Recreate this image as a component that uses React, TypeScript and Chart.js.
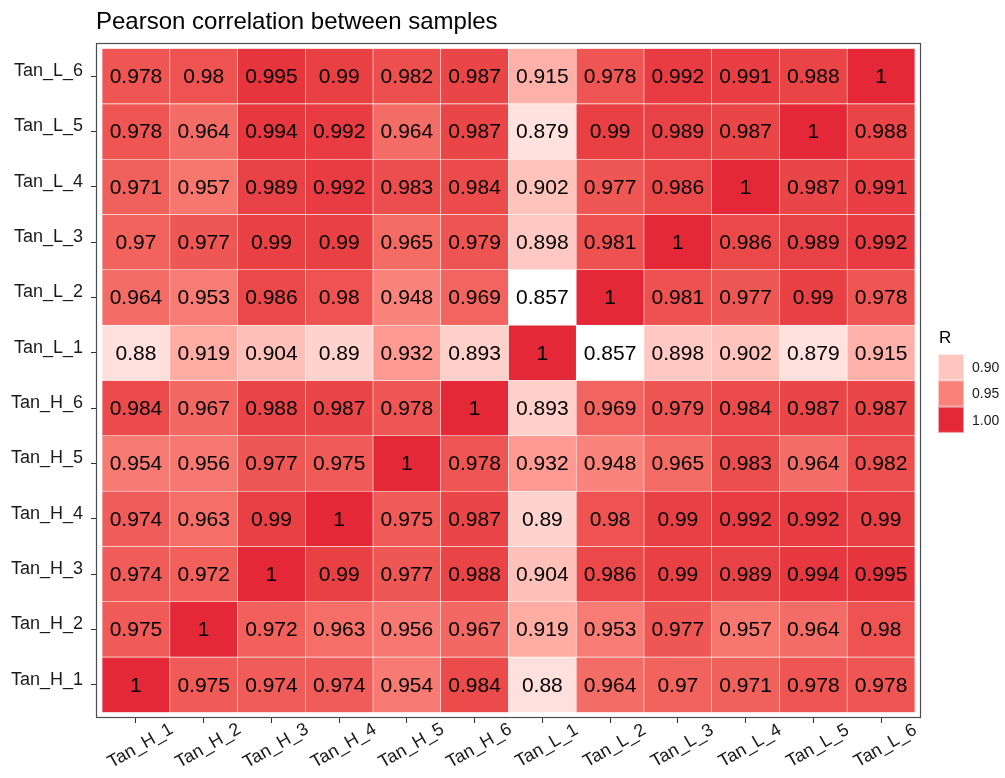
import React, { useEffect, useRef } from "react";
import { Chart, registerables } from "chart.js";

Chart.register(...registerables);

// Sample names (columns left→right, rows bottom→top)
const samples = [
  "Tan_H_1", "Tan_H_2", "Tan_H_3", "Tan_H_4", "Tan_H_5", "Tan_H_6",
  "Tan_L_1", "Tan_L_2", "Tan_L_3", "Tan_L_4", "Tan_L_5", "Tan_L_6",
];

// Pearson R, each row across columns Tan_H_1 … Tan_L_6
const rowH1 = [1, 0.975, 0.974, 0.974, 0.954, 0.984, 0.88, 0.964, 0.97, 0.971, 0.978, 0.978];
const rowH2 = [0.975, 1, 0.972, 0.963, 0.956, 0.967, 0.919, 0.953, 0.977, 0.957, 0.964, 0.98];
const rowH3 = [0.974, 0.972, 1, 0.99, 0.977, 0.988, 0.904, 0.986, 0.99, 0.989, 0.994, 0.995];
const rowH4 = [0.974, 0.963, 0.99, 1, 0.975, 0.987, 0.89, 0.98, 0.99, 0.992, 0.992, 0.99];
const rowH5 = [0.954, 0.956, 0.977, 0.975, 1, 0.978, 0.932, 0.948, 0.965, 0.983, 0.964, 0.982];
const rowH6 = [0.984, 0.967, 0.988, 0.987, 0.978, 1, 0.893, 0.969, 0.979, 0.984, 0.987, 0.987];
const rowL1 = [0.88, 0.919, 0.904, 0.89, 0.932, 0.893, 1, 0.857, 0.898, 0.902, 0.879, 0.915];
const rowL2 = [0.964, 0.953, 0.986, 0.98, 0.948, 0.969, 0.857, 1, 0.981, 0.977, 0.99, 0.978];
const rowL3 = [0.97, 0.977, 0.99, 0.99, 0.965, 0.979, 0.898, 0.981, 1, 0.986, 0.989, 0.992];
const rowL4 = [0.971, 0.957, 0.989, 0.992, 0.983, 0.984, 0.902, 0.977, 0.986, 1, 0.987, 0.991];
const rowL5 = [0.978, 0.964, 0.994, 0.992, 0.964, 0.987, 0.879, 0.99, 0.989, 0.987, 1, 0.988];
const rowL6 = [0.978, 0.98, 0.995, 0.99, 0.982, 0.987, 0.915, 0.978, 0.992, 0.991, 0.988, 1];

const matrixRows = [rowH1, rowH2, rowH3, rowH4, rowH5, rowH6, rowL1, rowL2, rowL3, rowL4, rowL5, rowL6];

const legendBreaks = [0.9, 0.95, 1.0];
const legendLabels = ["0.90", "0.95", "1.00"];
const titleText = "Pearson correlation between samples";
const legendTitle = "R";

const FONT = "'Liberation Sans', Arial, Helvetica, sans-serif";
const LOW_COLOR = [255, 255, 255];
const HIGH_COLOR = [228, 40, 56];

// ---- Lab gradient (like ggplot's scale_fill_gradient) ----
function toLin(c: number) {
  c /= 255;
  return c <= 0.04045 ? c / 12.92 : Math.pow((c + 0.055) / 1.055, 2.4);
}
function fromLin(c: number) {
  const v = c <= 0.0031308 ? 12.92 * c : 1.055 * Math.pow(c, 1 / 2.4) - 0.055;
  return Math.round(Math.min(1, Math.max(0, v)) * 255);
}
function rgbToLab(rgb: number[]) {
  const [r, g, b] = rgb.map(toLin);
  const X = (0.4124 * r + 0.3576 * g + 0.1805 * b) / 0.95047;
  const Y = 0.2126 * r + 0.7152 * g + 0.0722 * b;
  const Z = (0.0193 * r + 0.1192 * g + 0.9505 * b) / 1.08883;
  const f = (t: number) => (t > 0.008856 ? Math.cbrt(t) : 7.787 * t + 16 / 116);
  const fx = f(X), fy = f(Y), fz = f(Z);
  return [116 * fy - 16, 500 * (fx - fy), 200 * (fy - fz)];
}
function labToRgb(lab: number[]) {
  const [L, a, b] = lab;
  const fy = (L + 16) / 116;
  const fx = fy + a / 500;
  const fz = fy - b / 200;
  const fi = (t: number) => (t * t * t > 0.008856 ? t * t * t : (t - 16 / 116) / 7.787);
  const X = fi(fx) * 0.95047, Y = fi(fy), Z = fi(fz) * 1.08883;
  const r = 3.2406 * X - 1.5372 * Y - 0.4986 * Z;
  const g = -0.9689 * X + 1.8758 * Y + 0.0415 * Z;
  const bb = 0.0557 * X - 0.204 * Y + 1.057 * Z;
  return [fromLin(r), fromLin(g), fromLin(bb)];
}
const allValues = matrixRows.flat();
const vMin = Math.min(...allValues);
const vMax = Math.max(...allValues);
const labLow = rgbToLab(LOW_COLOR);
const labHigh = rgbToLab(HIGH_COLOR);
function fillColor(v: number) {
  const t = Math.min(1, Math.max(0, (v - vMin) / (vMax - vMin)));
  const lab = labLow.map((l, i) => l + (labHigh[i] - l) * t);
  const [r, g, b] = labToRgb(lab);
  return `rgb(${r},${g},${b})`;
}

const heatPlugin = {
  id: "heatExtras",
  afterDraw(chart: any) {
    const { ctx, chartArea } = chart;
    const { left, right, top, bottom } = chartArea;
    ctx.save();

    // cell labels
    ctx.fillStyle = "#000";
    ctx.font = `21px ${FONT}`;
    ctx.textAlign = "center";
    ctx.textBaseline = "middle";
    matrixRows.forEach((row, i) => {
      const meta = chart.getDatasetMeta(i);
      row.forEach((v, j) => {
        const el = meta.data[j];
        if (!el) return;
        ctx.fillText(String(v), el.x, (el.y + el.base) / 2 + 1);
      });
    });

    // panel border
    ctx.strokeStyle = "#4d4d4d";
    ctx.lineWidth = 1.2;
    ctx.strokeRect(left + 0.5, top + 0.5, right - left - 1, bottom - top - 1);

    // title
    ctx.fillStyle = "#000";
    ctx.font = `24px ${FONT}`;
    ctx.textAlign = "left";
    ctx.textBaseline = "alphabetic";
    ctx.fillText(titleText, left, 29);

    // x labels (rotated 30°)
    const xs = chart.scales.x;
    ctx.font = `18px ${FONT}`;
    ctx.fillStyle = "#1a1a1a";
    ctx.textAlign = "center";
    ctx.textBaseline = "middle";
    samples.forEach((s, j) => {
      const px = xs.getPixelForValue(j);
      ctx.save();
      ctx.translate(px + 4.5, bottom + 28);
      ctx.rotate((-30 * Math.PI) / 180);
      ctx.fillText(s, 0, 0);
      ctx.restore();
    });

    // legend
    const lx = right + 17;
    const ly = 354;
    const sw = 26;
    const sh = 26.3;
    ctx.fillStyle = "#000";
    ctx.font = `17px ${FONT}`;
    ctx.textAlign = "left";
    ctx.textBaseline = "middle";
    ctx.fillText(legendTitle, lx + 1, 338);
    legendBreaks.forEach((b, k) => {
      const y0 = ly + k * sh;
      ctx.fillStyle = fillColor(b);
      ctx.fillRect(lx, y0, sw, sh);
      ctx.strokeStyle = "rgba(255,255,255,0.6)";
      ctx.lineWidth = 1;
      ctx.strokeRect(lx + 0.5, y0 + 0.5, sw - 1, sh - 1);
      ctx.fillStyle = "#1a1a1a";
      ctx.font = `14px ${FONT}`;
      ctx.fillText(legendLabels[k], lx + sw + 8, y0 + sh / 2 + 1);
    });

    ctx.restore();
  },
};

export default function App() {
  const ref = useRef<HTMLCanvasElement | null>(null);

  useEffect(() => {
    if (!ref.current) return;
    const datasets = matrixRows.map((row, i) => ({
      label: samples[i],
      data: row.map((_, j) => ({ x: j, y: 1 })),
      backgroundColor: row.map((v) => fillColor(v)),
      borderColor: "rgba(255,255,255,0.45)",
      borderWidth: 0.6,
      borderSkipped: false,
      barPercentage: 1,
      categoryPercentage: 1,
    }));

    const tickGrid = {
      drawOnChartArea: false,
      drawTicks: true,
      tickLength: 5,
      tickWidth: 1,
      color: "#333",
      offset: false,
    };

    const chart = new Chart(ref.current, {
      type: "bar",
      data: { datasets },
      options: {
        responsive: false,
        animation: false,
        layout: { padding: { top: 43, right: 84, bottom: 0, left: 0 } },
        plugins: {
          legend: { display: false },
          tooltip: { enabled: false },
          title: { display: false },
        },
        scales: {
          x: {
            type: "linear",
            min: -0.59,
            max: 11.59,
            offset: false,
            stacked: true,
            afterBuildTicks: (s: any) => {
              s.ticks = samples.map((_, i) => ({ value: i }));
            },
            afterFit: (s: any) => {
              s.height = 60;
            },
            grid: tickGrid,
            border: { display: false },
            ticks: { display: false, autoSkip: false },
          },
          y: {
            type: "linear",
            min: -0.1,
            max: 12.1,
            stacked: true,
            afterBuildTicks: (s: any) => {
              s.ticks = samples.map((_, i) => ({ value: i + 0.5 }));
            },
            afterFit: (s: any) => {
              s.width = 96;
            },
            grid: tickGrid,
            border: { display: false },
            ticks: {
              autoSkip: false,
              padding: 8,
              labelOffset: -5,
              color: "#1a1a1a",
              font: { family: FONT, size: 18 },
              callback: (_v: any, idx: number) => samples[idx],
            },
          },
        },
      } as any,
      plugins: [heatPlugin],
    });
    return () => chart.destroy();
  }, []);

  return (
    <div style={{ position: "absolute", left: 0, top: 0, width: 1005, height: 778, background: "#fff" }}>
      <canvas ref={ref} width={1005} height={778} style={{ width: 1005, height: 778, display: "block" }} />
    </div>
  );
}
